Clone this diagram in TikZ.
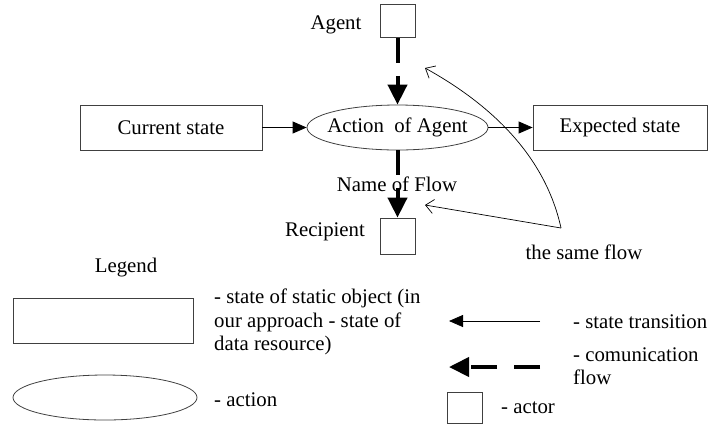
\documentclass[tikz,border=0pt]{standalone}
\usepackage{fontspec}
\setmainfont{Liberation Serif}
\usetikzlibrary{arrows.meta,shapes.geometric}
\begin{document}
\begin{tikzpicture}[x=1pt,y=-1pt,
  font=\fontsize{20.8}{23.5}\selectfont,
  boxline/.style={draw=black!75, line width=0.8pt},
  statebox/.style={boxline, minimum height=45pt, inner sep=0pt},
  actionell/.style={boxline, ellipse, minimum width=181pt, minimum height=45pt, inner sep=0pt},
  actor/.style={boxline, minimum width=35pt, minimum height=33pt, inner sep=0pt},
  statearrow/.style={draw=black, line width=0.8pt, -{Triangle[length=14pt,width=12pt]}},
  commflow/.style={draw=black, line width=4pt, dash pattern=on 25pt off 13pt, -{Triangle[length=20pt,width=19pt]}},
  pointer/.style={draw=black, line width=0.7pt, -{Straight Barb[length=8pt,width=14pt]}},
  txt/.style={inner sep=0pt}
]
\useasboundingbox (0,0) rectangle (708,424);
% main diagram
\node[statebox, minimum width=182pt] (cur) at (171,127.5) {Current state};
\node[actionell] (act) at (397.5,127.5) {};
\node[txt] (actlbl) at (act.center) {Action\ \ of Agent};
\node[statebox, minimum width=174pt] (exp) at (620,127.5) {Expected state};
\node[actor] (agent) at (397.5,21) {};
\node[txt] (agentlbl) at (336,25) {Agent};
\node[actor, minimum height=36pt] (rec) at (397.5,236) {};
\node[txt] (reclbl) at (325,232) {Recipient};
\draw[statearrow] (cur) -- (act);
\draw[statearrow] (act) -- (exp);
\draw[commflow] (agent.south) -- (act.north);
\draw[commflow] (act.south) -- (rec.north);
\node[txt] (flowlbl) at (397,184) {Name of Flow};
\coordinate (fork) at (561,228);
\coordinate (tipA) at (425,68);
\coordinate (tipB) at (425,205);
\draw[pointer] (fork) .. controls (545,155) and (490,104) .. (tipA);
\draw[pointer] (fork) -- (tipB);
\node[txt] (same) at (584,252) {the same flow};
% legend
\node[txt] (leg) at (126,268) {Legend};
\node[statebox, minimum width=180pt] (legbox) at (103,320.5) {};
\node[txt, anchor=west, align=left] (legboxtxt) at (214,322) {- state of static object (in\\our approach - state of\\data resource)};
\node[actionell, minimum width=184pt] (legell) at (105,397.5) {};
\node[txt, anchor=west] (legelltxt) at (214,400) {- action};
\coordinate (st1) at (540,321);
\coordinate (st2) at (449,321);
\draw[statearrow] (st1) -- (st2);
\node[txt, anchor=west] (sttxt) at (573,322) {- state transition};
\coordinate (cf1) at (540,367);
\coordinate (cf2) at (449,367);
\draw[commflow, dash pattern=on 26pt off 17pt] (cf1) -- (cf2);
\node[txt, anchor=west, align=left] (cftxt) at (573,366) {- comunication\\flow};
\node[actor, minimum height=31pt] (legactor) at (464.5,408) {};
\node[txt, anchor=west] (actortxt) at (501,408) {- actor};
\end{tikzpicture}
\end{document}
